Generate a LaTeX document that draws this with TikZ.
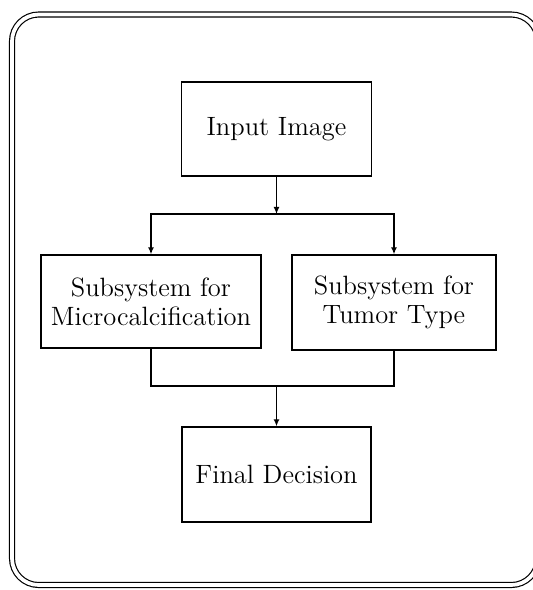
\documentclass[tikz,border=0pt]{standalone}
\usepackage{amsmath}
\usepackage{tikz}
\usetikzlibrary{arrows.meta,calc,positioning,shapes}
\tikzset{%
	frame/.style    = {line width=0.5pt, double, double distance=1.6pt, rounded corners=0.4cm},
	process/.style  = {draw, rectangle, line width=0.6pt, inner sep=0pt, minimum height=1.41cm, text centered, align=center, font=\fontsize{11.3}{12.4}\selectfont},
	arrow/.style    = {line width=0.6pt, -{Latex[length=3pt,width=2.6pt]}},
	line/.style     = {line width=0.6pt},
}

\begin{document}
\begin{tikzpicture}[x=0.015cm,y=-0.015cm]
	\useasboundingbox (0,0) rectangle (532,590);
	\draw[frame] (12,14.5) rectangle (538,585);
	\node[process,minimum width=2.85cm] (input) at (276.5,129) {Input Image};
	\node[process,minimum width=3.3cm,minimum height=1.395cm] (micro) at (151,301.5) {Subsystem for\\Microcalcification};
	\node[process,minimum width=3.06cm,minimum height=1.425cm] (tumor) at (394,302.5) {Subsystem for\\Tumor Type};
	\node[process,minimum width=2.835cm,minimum height=1.425cm] (final) at (276.5,474.5) {Final Decision};
	\coordinate (split) at (276.5,214);
	\coordinate (merge) at (276.5,386);
	% fan out
	\draw[arrow] (input) -- (split);
	\draw[arrow] (split) -| (micro);
	\draw[arrow] (split) -| (tumor);
	% fan in
	\draw[line] (micro) |- (merge) -| (tumor);
	\draw[arrow] (merge) -- (final);
\end{tikzpicture}
\end{document}
